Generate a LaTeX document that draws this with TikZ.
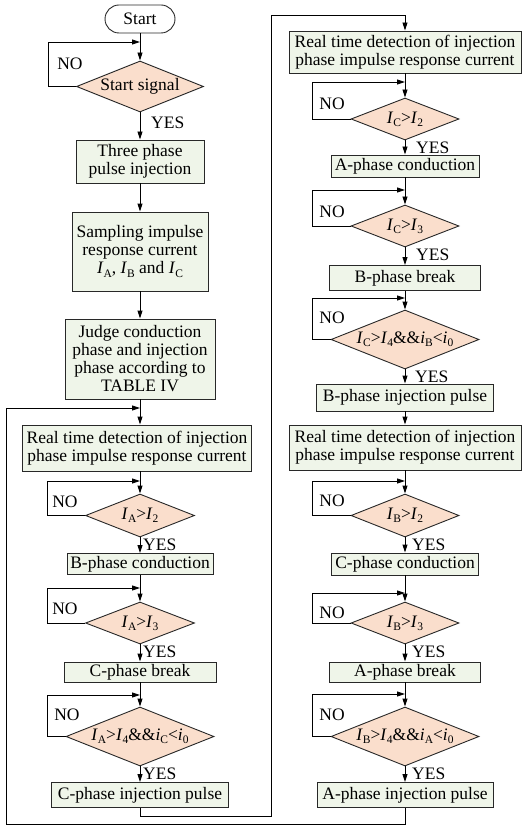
\documentclass[tikz,border=0pt]{standalone}
\usepackage{fontspec}
\setmainfont{Liberation Serif}
\usetikzlibrary{shapes.geometric,arrows.meta,calc}
\newcommand\lsub[1]{\raisebox{-3.2pt}{\fontsize{11.5}{11.5}\selectfont #1}}
\newcommand\Iv[1]{\textit{I}\lsub{#1}}
\newcommand\iv[1]{\textit{i}\lsub{#1}}
\definecolor{boxfill}{RGB}{239,245,233}
\definecolor{dfill}{RGB}{250,222,204}
\definecolor{edge}{RGB}{40,40,40}
\begin{document}
\begin{tikzpicture}[x=1pt,y=-1pt,
  every node/.style={font=\fontsize{17.5}{18}\selectfont},
  pbox/.style={draw=edge, fill=boxfill, line width=0.9pt, align=center, inner sep=0pt},
  dbox/.style={draw=edge, fill=dfill, shape=diamond, aspect=2.5, inner sep=0pt, line width=0.9pt, minimum width=108pt, minimum height=42pt},
  lab/.style={inner sep=0pt},
  yes/.style={lab, anchor=west, yshift=-7pt},
  conn/.style={line width=0.9pt, draw=black},
  arr/.style={conn, -{Triangle[length=8pt,width=5pt]}}
]
\useasboundingbox (0,0) rectangle (522,829);
% left column
\node[pbox, fill=white, rounded corners=14pt, minimum width=70pt, minimum height=28pt] (start) at (140,19) {Start};
\node[dbox, minimum width=127pt, minimum height=51pt] (d0) at (140,86.5) {Start signal};
\node[pbox, minimum width=128pt, minimum height=43pt] (b1) at (140,161.5) {Three phase\\pulse injection};
\node[pbox, minimum width=136pt, minimum height=79pt] (b2) at (140,251.5) {Sampling impulse\\response current\\\Iv{A}, \Iv{B} and \Iv{C}};
\node[pbox, minimum width=150pt, minimum height=80pt] (b3) at (140,359) {Judge conduction\\phase and injection\\phase according to\\TABLE IV};
\node[pbox, minimum width=229pt, minimum height=46pt] (b4) at (137,448) {Real time detection of injection\\phase impulse response current};
\node[dbox, minimum width=109pt, minimum height=43pt] (d1) at (140,515.5) {\Iv{A}>\Iv{2}};
\node[pbox, minimum width=146pt, minimum height=21pt] (b5) at (140,564) {B-phase conduction};
\node[dbox, minimum width=109pt, minimum height=42pt] (d2) at (140,623) {\Iv{A}>\Iv{3}};
\node[pbox, minimum width=152pt, minimum height=20pt] (b6) at (140,672) {C-phase break};
\node[dbox, minimum width=148pt, minimum height=59pt] (d3) at (140,736.5) {\Iv{A}>\Iv{4}\&\&\iv{C}<\iv{0}};
\node[pbox, minimum width=177pt, minimum height=25pt] (b7) at (140,795) {C-phase injection pulse};
% right column
\node[pbox, minimum width=232pt, minimum height=42pt] (b8) at (405,52) {Real time detection of injection\\phase impulse response current};
\node[dbox] (d4) at (405,119) {\Iv{C}>\Iv{2}};
\node[pbox, minimum width=148pt, minimum height=22pt] (b9) at (405,166) {A-phase conduction};
\node[dbox] (d5) at (405,226) {\Iv{C}>\Iv{3}};
\node[pbox, minimum width=151pt, minimum height=25pt] (b10) at (405,278) {B-phase break};
\node[dbox, minimum width=148pt, minimum height=59pt] (d6) at (405,339.5) {\Iv{C}>\Iv{4}\&\&\iv{B}<\iv{0}};
\node[pbox, minimum width=177pt, minimum height=27pt] (b11) at (405,397.5) {B-phase injection pulse};
\node[pbox, minimum width=232pt, minimum height=45pt] (b12) at (405,447.5) {Real time detection of injection\\phase impulse response current};
\node[dbox, minimum height=43pt] (d7) at (405,515.5) {\Iv{B}>\Iv{2}};
\node[pbox, minimum width=147pt, minimum height=22pt] (b13) at (405,564) {C-phase conduction};
\node[dbox] (d8) at (405,623) {\Iv{B}>\Iv{3}};
\node[pbox, minimum width=151pt, minimum height=20pt] (b14) at (405,672) {A-phase break};
\node[dbox, minimum width=148pt, minimum height=59pt] (d9) at (405,736.5) {\Iv{B}>\Iv{4}\&\&\iv{A}<\iv{0}};
\node[pbox, minimum width=176pt, minimum height=25pt] (b15) at (405,795) {A-phase injection pulse};
% main vertical arrows
\draw[arr] (start) -- (d0);
\draw[arr] (d0) -- (b1);
\draw[arr] (b1) -- (b2);
\draw[arr] (b2) -- (b3);
\draw[arr] (b3.south) -- (b3.south |- b4.north);
\draw[arr] (b4.south -| d1.north) -- (d1.north);
\draw[arr] (d1) -- (b5);
\draw[arr] (b5) -- (d2);
\draw[arr] (d2) -- (b6);
\draw[arr] (b6) -- (d3);
\draw[arr] (d3) -- (b7);
\draw[arr] (b8) -- (d4);
\draw[arr] (d4) -- (b9);
\draw[arr] (b9) -- (d5);
\draw[arr] (d5) -- (b10);
\draw[arr] (b10) -- (d6);
\draw[arr] (d6) -- (b11);
\draw[arr] (b11) -- (b12);
\draw[arr] (b12) -- (d7);
\draw[arr] (d7) -- (b13);
\draw[arr] (b13) -- (d8);
\draw[arr] (d8) -- (b14);
\draw[arr] (b14) -- (d9);
\draw[arr] (d9) -- (b15);
% NO loops
\coordinate (l0) at (48,42);
\coordinate (l1) at (47,481);
\coordinate (l2) at (47,588);
\coordinate (l3) at (47,695);
\coordinate (r1) at (312,82);
\coordinate (r2) at (312,190);
\coordinate (r3) at (312,298);
\coordinate (r4) at (312,481);
\coordinate (r5) at (312,593);
\coordinate (r6) at (312,694);
\draw[arr] (d0.west) -| (l0) -- (l0 -| d0.north);
\draw[arr] (d1.west) -| (l1) -- (l1 -| d1.north);
\draw[arr] (d2.west) -| (l2) -- (l2 -| d2.north);
\draw[arr] (d3.west) -| (l3) -- (l3 -| d3.north);
\draw[arr] (d4.west) -| (r1) -- (r1 -| d4.north);
\draw[arr] (d5.west) -| (r2) -- (r2 -| d5.north);
\draw[arr] (d6.west) -| (r3) -- (r3 -| d6.north);
\draw[arr] (d7.west) -| (r4) -- (r4 -| d7.north);
\draw[arr] (d8.west) -| (r5) -- (r5 -| d8.north);
\draw[arr] (d9.west) -| (r6) -- (r6 -| d9.north);
\node[lab] (n0) at ($(l0)+(22,22)$) {NO};
\node[lab] (n1) at ($(l1)+(18,21)$) {NO};
\node[lab] (n2) at ($(l2)+(18,21)$) {NO};
\node[lab] (n3) at ($(l3)+(20,20)$) {NO};
\node[lab] (n4) at ($(r1)+(20,22)$) {NO};
\node[lab] (n5) at ($(r2)+(20,22)$) {NO};
\node[lab] (n6) at ($(r3)+(20,20)$) {NO};
\node[lab] (n7) at ($(r4)+(20,20)$) {NO};
\node[lab] (n8) at ($(r5)+(20,20)$) {NO};
\node[lab] (n9) at ($(r6)+(20,21)$) {NO};
% YES labels
\node[yes, xshift=11pt, yshift=-3pt] (y0) at (d0.south) {YES};
\node[yes, xshift=3pt] (y1) at (d1.south) {YES};
\node[yes, xshift=3pt] (y2) at (d2.south) {YES};
\node[yes, xshift=3pt] (y3) at (d3.south) {YES};
\node[yes, xshift=11pt] (y4) at (d4.south) {YES};
\node[yes, xshift=11pt] (y5) at (d5.south) {YES};
\node[yes, xshift=10pt] (y6) at (d6.south) {YES};
\node[yes, xshift=7pt] (y7) at (d7.south) {YES};
\node[yes, xshift=7pt] (y8) at (d8.south) {YES};
\node[yes, xshift=7pt] (y9) at (d9.south) {YES};
% outer loops
\coordinate (c1) at (271,816);
\coordinate (c2) at (271,15);
\draw[arr] (b7.south) |- (c1) -- (c2) -| (b8.north);
\coordinate (a1) at (6,824);
\coordinate (a2) at (6,408);
\draw[arr] (b15.south) |- (a1) -- (a2) -- (a2 -| b3.south);
\end{tikzpicture}
\end{document}
